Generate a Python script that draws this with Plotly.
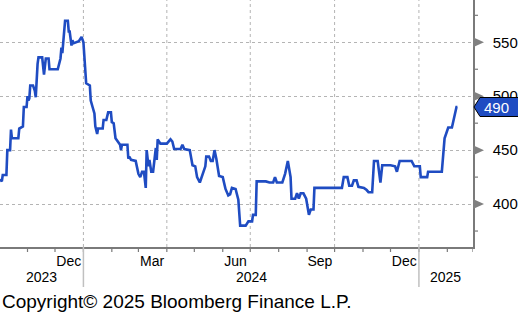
import plotly.graph_objects as go
import pandas as pd

# ---- data ----
dates = [
    "2023-10-02", "2023-10-04", "2023-10-05", "2023-10-09", "2023-10-10", "2023-10-13",
    "2023-10-14", "2023-10-15", "2023-10-22", "2023-10-23", "2023-10-27", "2023-10-28",
    "2023-10-31", "2023-11-01", "2023-11-02", "2023-11-03", "2023-11-04", "2023-11-07",
    "2023-11-09", "2023-11-10", "2023-11-12", "2023-11-13", "2023-11-17", "2023-11-18",
    "2023-11-19", "2023-11-20", "2023-11-21", "2023-11-24", "2023-11-25", "2023-12-04",
    "2023-12-05", "2023-12-06", "2023-12-07", "2023-12-08", "2023-12-09", "2023-12-10",
    "2023-12-12", "2023-12-15", "2023-12-16", "2023-12-17", "2023-12-19", "2023-12-20",
    "2023-12-21", "2023-12-27", "2023-12-30", "2024-01-01", "2024-01-03", "2024-01-04",
    "2024-01-08", "2024-01-09", "2024-01-11", "2024-01-13", "2024-01-14", "2024-01-16",
    "2024-01-17", "2024-01-22", "2024-01-23", "2024-01-26", "2024-01-28", "2024-01-31",
    "2024-02-01", "2024-02-03", "2024-02-05", "2024-02-07", "2024-02-10", "2024-02-11",
    "2024-02-12", "2024-02-18", "2024-02-19", "2024-02-20", "2024-02-22", "2024-02-27",
    "2024-02-29", "2024-03-01", "2024-03-03", "2024-03-05", "2024-03-07", "2024-03-09",
    "2024-03-10", "2024-03-12", "2024-03-13", "2024-03-15", "2024-03-17", "2024-03-19",
    "2024-03-20", "2024-03-21", "2024-03-22", "2024-03-25", "2024-04-01", "2024-04-05",
    "2024-04-07", "2024-04-09", "2024-04-16", "2024-04-18", "2024-04-20", "2024-04-26",
    "2024-04-29", "2024-05-02", "2024-05-04", "2024-05-07", "2024-05-09", "2024-05-13",
    "2024-05-14", "2024-05-17", "2024-05-19", "2024-05-21", "2024-05-23", "2024-05-25",
    "2024-05-28", "2024-06-01", "2024-06-04", "2024-06-07", "2024-06-09", "2024-06-11",
    "2024-06-15", "2024-06-18", "2024-06-20", "2024-06-26", "2024-06-29", "2024-07-03",
    "2024-07-04", "2024-07-07", "2024-07-08", "2024-07-18", "2024-07-22", "2024-07-26",
    "2024-07-28", "2024-07-30", "2024-08-05", "2024-08-08", "2024-08-11", "2024-08-13",
    "2024-08-14", "2024-08-15", "2024-08-19", "2024-08-21", "2024-08-23", "2024-08-25",
    "2024-08-28", "2024-08-31", "2024-09-02", "2024-09-03", "2024-09-05", "2024-09-08",
    "2024-09-09", "2024-10-09", "2024-10-11", "2024-10-15", "2024-10-17", "2024-10-20",
    "2024-10-22", "2024-10-25", "2024-10-27", "2024-11-02", "2024-11-05", "2024-11-07",
    "2024-11-11", "2024-11-13", "2024-11-17", "2024-11-20", "2024-11-22", "2024-12-01",
    "2024-12-06", "2024-12-08", "2024-12-11", "2024-12-24", "2024-12-27", "2025-01-02",
    "2025-01-03", "2025-01-10", "2025-01-11", "2025-01-26", "2025-01-29", "2025-01-31",
    "2025-02-02", "2025-02-06", "2025-02-11", "2025-02-12",
]
values = [
    423, 421, 427, 427, 450, 450,
    469, 461, 461, 470, 472, 490,
    490, 500, 496, 498, 510, 510,
    505, 499, 530, 536, 536, 525,
    520, 528, 535, 535, 525, 525,
    528, 531, 535, 545, 540, 550,
    570, 570, 560, 560, 547, 552,
    549, 551, 555, 550, 530, 512,
    510, 496, 490, 484, 472, 465,
    470, 470, 478, 478, 485, 485,
    476, 475, 461, 459, 455, 450,
    455, 455, 442, 444, 441, 440,
    430, 428, 425, 430, 430, 415,
    450, 435, 441, 430, 430, 450,
    452, 441, 460, 456, 456, 460,
    458, 451, 451, 455, 451, 450,
    436, 435, 425, 420, 425, 435,
    444, 444, 440, 440, 450, 442,
    426, 425, 414, 408, 409, 415,
    414, 404, 380, 380, 384, 384,
    390, 390, 421, 421, 420, 420,
    425, 420, 420, 428, 440, 428,
    425, 405, 405, 410, 405, 410,
    410, 405, 394, 390, 395, 395,
    415, 415, 425, 425, 417, 417,
    422, 422, 416, 415, 413, 411,
    411, 440, 440, 420, 436, 436,
    435, 430, 440, 440, 435, 435,
    425, 425, 430, 430, 461, 466,
    471, 471, 490, 490,
]

month_tick_dates = ["2023-12-16", "2024-03-16", "2024-06-15", "2024-09-15", "2024-12-16"]
month_tick_text = ["Dec", "Mar", "Jun", "Sep", "Dec"]
years = [2023, 2024, 2025]
y_ticks = [400, 450, 500, 550]
x_range = ["2023-10-02", "2025-03-01"]
y_range = [360.2, 589.2]

# ---- styling ----
LINE = "#1f4cc2"
AXIS = "#7a7a7a"
GRID = "#b4b4b4"
FONT = "Liberation Sans"

r0, r1 = pd.Timestamp(x_range[0]), pd.Timestamp(x_range[1])
# month boundaries (minor ticks) and quarter boundaries (grid)
month_starts = [d for d in pd.date_range(r0.normalize(), r1, freq="MS") if r0 <= d <= r1]
quarter_starts = [d for d in month_starts if d.month in (1, 4, 7, 10)]
# year label centres = middle of visible part of each year
year_centres = []
for yv in years:
    a = max(r0, pd.Timestamp(f"{yv}-01-01"))
    b = min(r1, pd.Timestamp(f"{yv + 1}-01-01"))
    year_centres.append(a + (b - a) / 2)
year_starts = [pd.Timestamp(f"{yv}-01-01") for yv in years
               if r0 < pd.Timestamp(f"{yv}-01-01") < r1]

fig = go.Figure()
fig.add_trace(go.Scatter(x=dates, y=values, mode="lines",
                         line=dict(color=LINE, width=2.6), hoverinfo="skip"))

shapes = []
# vertical dotted grid at quarter boundaries
for d in quarter_starts:
    shapes.append(dict(type="line", xref="x", yref="paper", x0=d, x1=d, y0=0, y1=1,
                       line=dict(color=GRID, width=1, dash="dot"), layer="below"))
# monthly ticks under the x axis
for d in month_starts:
    shapes.append(dict(type="line", xref="x", yref="paper", x0=d, x1=d,
                       ysizemode="pixel", yanchor=0, y0=0, y1=-5,
                       line=dict(color=AXIS, width=1.2)))
# year separators
for d in year_starts:
    shapes.append(dict(type="line", xref="x", yref="paper", x0=d, x1=d,
                       ysizemode="pixel", yanchor=0, y0=0, y1=-40,
                       line=dict(color="#c0c0c0", width=1.5)))
# y minor ticks (between the labelled values)
step = y_ticks[1] - y_ticks[0]
y_minor = [v + step / 2 for v in [y_ticks[0] - step] + y_ticks
           if y_range[0] <= v + step / 2 <= y_range[1]]
for v in y_minor:
    shapes.append(dict(type="line", xref="paper", yref="y", x0=1, x1=1, y0=v, y1=v,
                       xsizemode="pixel", xanchor=1, line=dict(color=AXIS, width=1.2)))
    shapes[-1].update(x0=0, x1=5)
# grey triangles at the labelled y ticks
for v in y_ticks:
    shapes.append(dict(type="path", xref="paper", yref="y", xsizemode="pixel", xanchor=1,
                       ysizemode="pixel", yanchor=v, path="M 0 -5 L 11 0 L 0 5 Z",
                       fillcolor="#808080", line=dict(width=0)))
# last-value tag
last = values[-1]
shapes.append(dict(type="path", xref="paper", yref="y", xsizemode="pixel", xanchor=1,
                   ysizemode="pixel", yanchor=last,
                   path="M 1 0 L 7 9.5 L 60 9.5 L 60 -9.5 L 7 -9.5 Z",
                   fillcolor=LINE, line=dict(color="black", width=1)))

fig.update_layout(
    width=518, height=314,
    margin=dict(l=0, r=43, t=0, b=67),
    paper_bgcolor="white", plot_bgcolor="white",
    showlegend=False,
    font=dict(family=FONT, size=14, color="black"),
    shapes=shapes,
    xaxis=dict(type="date", range=x_range, tickmode="array",
               tickvals=month_tick_dates, ticktext=month_tick_text,
               ticks="", showgrid=False, zeroline=False,
               showline=True, linecolor=AXIS, linewidth=1.5,
               ticklabelstandoff=0,
               tickfont=dict(family=FONT, size=14, color="black")),
    yaxis=dict(side="right", range=y_range, tickmode="array", tickvals=y_ticks,
               ticks="", showgrid=True, gridcolor=GRID, griddash="dot", gridwidth=1,
               zeroline=False, showline=True, linecolor=AXIS, linewidth=1.5,
               ticklabelstandoff=15,
               tickfont=dict(family=FONT, size=15, color="black")),
)

for c, yv in zip(year_centres, years):
    fig.add_annotation(x=c, xref="x", y=0, yref="paper", yanchor="middle", yshift=-30,
                       text=str(yv), showarrow=False,
                       font=dict(family=FONT, size=14, color="black"))

fig.add_annotation(x=1, xref="paper", y=last, yref="y", xanchor="left", xshift=9,
                   text=f"{last:.0f}", showarrow=False,
                   font=dict(family=FONT, size=15, color="white"))

fig.add_annotation(x=0, xref="paper", y=0, yref="paper", xanchor="left",
                   yanchor="middle", yshift=-54, showarrow=False,
                   text="Copyright© 2025 Bloomberg Finance L.P.",
                   font=dict(family=FONT, size=19, color="black"))

fig.write_html("out.html")
